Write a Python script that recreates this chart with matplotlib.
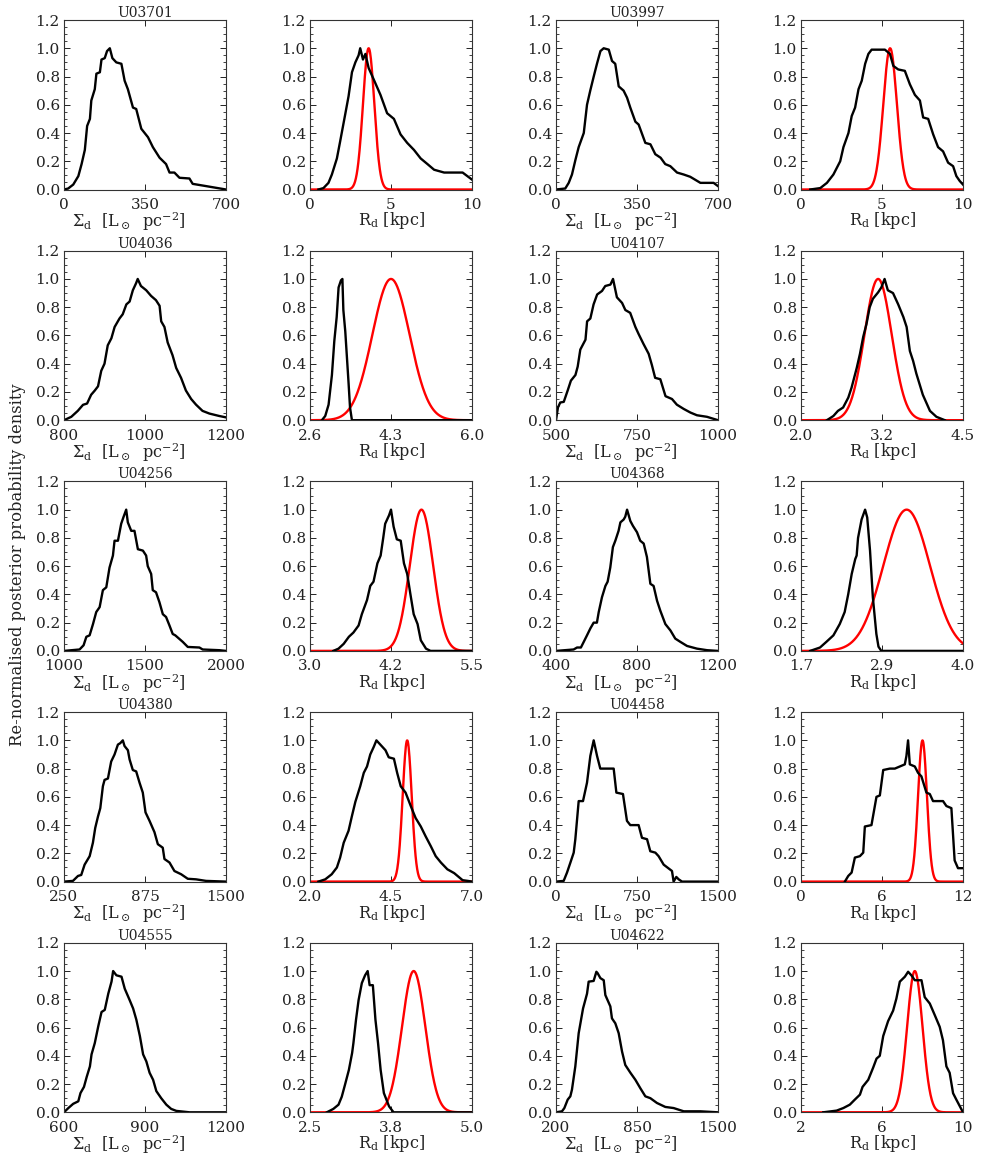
import numpy as np
import matplotlib
matplotlib.use('Agg')
import matplotlib.pyplot as plt
from matplotlib.ticker import MultipleLocator

plt.rcParams['font.family'] = 'DejaVu Serif'
plt.rcParams['mathtext.fontset'] = 'dejavuserif'

galaxies = ['U03701', 'U03997', 'U04036', 'U04107', 'U04256',
            'U04368', 'U04380', 'U04458', 'U04555', 'U04622']

# x ranges and tick labels (min, mid, max) for Sigma_d and R_d panels
sig_range = [(0, 700), (0, 700), (800, 1200), (500, 1000), (1000, 2000),
             (400, 1200), (250, 1500), (0, 1500), (600, 1200), (200, 1500)]
sig_ticks = [['0', '350', '700'], ['0', '350', '700'], ['800', '1000', '1200'],
             ['500', '750', '1000'], ['1000', '1500', '2000'], ['400', '800', '1200'],
             ['250', '875', '1500'], ['0', '750', '1500'], ['600', '900', '1200'],
             ['200', '850', '1500']]
rd_range = [(0, 10), (0, 10), (2.6, 6.0), (2.0, 4.5), (3.0, 5.5),
            (1.7, 4.0), (2.0, 7.0), (0, 12), (2.5, 5.0), (2, 10)]
rd_ticks = [['0', '5', '10'], ['0', '5', '10'], ['2.6', '4.3', '6.0'],
            ['2.0', '3.2', '4.5'], ['3.0', '4.2', '5.5'], ['1.7', '2.9', '4.0'],
            ['2.0', '4.5', '7.0'], ['0', '6', '12'], ['2.5', '3.8', '5.0'],
            ['2', '6', '10']]

# red prior on R_d: centre and width
prior_mu = [3.62, 5.5, 4.30, 3.19, 4.72, 3.20, 5.0, 9.0, 4.10, 7.62]
prior_sd = [0.35, 0.42, 0.39, 0.21, 0.18, 0.33, 0.14, 0.33, 0.18, 0.38]

# posterior of Sigma_d (black, left panels)
sig_x = [
    [0, 18, 40, 62, 76, 90, 100, 112, 118, 133, 140, 155, 162, 176, 186, 198, 209, 226, 248, 262,
     276, 298, 312, 334, 363, 384, 413, 441, 456, 477, 499, 542, 556, 614, 657, 700],
    [0, 40, 55, 69, 84, 98, 120, 134, 148, 163, 177, 192, 206, 228, 242, 256, 271, 292, 307, 321,
     343, 357, 386, 408, 429, 452, 472, 494, 523, 552, 580, 624, 681, 700],
    [800, 818, 834, 847, 857, 867, 876, 884, 892, 900, 908, 917, 925, 937, 945, 954, 962, 970, 978, 982,
     990, 1003, 1015, 1027, 1036, 1040, 1048, 1056, 1068, 1077, 1089, 1101, 1114, 1126, 1142, 1159, 1183, 1200],
    [500, 506, 513, 524, 536, 546, 560, 567, 575, 591, 596, 606, 616, 627, 642, 652, 668, 676, 688, 704,
     714, 729, 745, 755, 770, 786, 796, 806, 822, 838, 858, 873, 894, 915, 935, 966, 1000],
    [1000, 1096, 1121, 1138, 1158, 1179, 1199, 1220, 1240, 1261, 1281, 1302, 1312, 1333, 1353, 1368, 1384, 1394,
     1415, 1435, 1456, 1487, 1507, 1517, 1538, 1548, 1568, 1589, 1610, 1630, 1651, 1671, 1687, 1733, 1764,
     1836, 1856, 1959, 2000],
    [400, 487, 504, 523, 537, 553, 570, 586, 602, 611, 627, 644, 655, 668, 681, 693, 709, 718, 734, 742,
     751, 767, 780, 800, 816, 833, 849, 866, 882, 899, 915, 940, 965, 989, 1014, 1047, 1096, 1146, 1200],
    [250, 319, 358, 383, 409, 448, 473, 491, 512, 530, 550, 563, 589, 614, 640, 666, 684, 704, 717, 743,
     756, 781, 807, 833, 858, 879, 910, 948, 974, 1012, 1025, 1064, 1102, 1154, 1205, 1269, 1346, 1500],
    [0, 71, 102, 133, 164, 179, 210, 250, 287, 318, 349, 380, 410, 534, 559, 620, 657, 688, 765, 796,
     843, 873, 920, 950, 997, 1074, 1089, 1114, 1136, 1167, 1500],
    [600, 616, 634, 653, 661, 674, 684, 696, 702, 714, 727, 739, 751, 764, 776, 782, 794, 813, 825, 843,
     856, 868, 881, 893, 905, 917, 930, 942, 960, 979, 997, 1016, 1065, 1200],
    [200, 248, 267, 294, 315, 328, 355, 382, 417, 449, 462, 502, 524, 534, 556, 583, 596, 636, 649, 676,
     703, 730, 756, 797, 837, 877, 917, 957, 1010, 1077, 1144, 1225, 1358, 1500],
]
sig_y = [
    [0, 0.007, 0.035, 0.095, 0.18, 0.28, 0.45, 0.5, 0.63, 0.71, 0.82, 0.83, 0.92, 0.93, 0.98, 1.0, 0.93, 0.9,
     0.89, 0.77, 0.71, 0.58, 0.57, 0.43, 0.37, 0.30, 0.225, 0.18, 0.12, 0.12, 0.083, 0.078, 0.04, 0.024,
     0.012, 0],
    [0, 0.007, 0.047, 0.106, 0.21, 0.30, 0.40, 0.6, 0.70, 0.80, 0.89, 0.98, 1.0, 0.99, 0.91, 0.89, 0.73,
     0.70, 0.65, 0.58, 0.48, 0.46, 0.33, 0.32, 0.25, 0.225, 0.18, 0.165, 0.12, 0.106, 0.09, 0.047, 0.047,
     0.024],
    [0, 0.024, 0.066, 0.109, 0.118, 0.18, 0.21, 0.24, 0.35, 0.40, 0.53, 0.58, 0.66, 0.72, 0.75, 0.82, 0.84,
     0.92, 0.97, 1.0, 0.95, 0.92, 0.88, 0.85, 0.81, 0.70, 0.66, 0.55, 0.46, 0.37, 0.30, 0.21, 0.15, 0.11,
     0.066, 0.047, 0.03, 0.02],
    [0, 0.09, 0.125, 0.13, 0.21, 0.28, 0.32, 0.38, 0.50, 0.57, 0.70, 0.72, 0.82, 0.89, 0.915, 0.95, 0.96,
     1.0, 0.87, 0.83, 0.78, 0.76, 0.66, 0.61, 0.54, 0.47, 0.39, 0.30, 0.29, 0.17, 0.15, 0.11, 0.08, 0.054,
     0.035, 0.024, 0],
    [0, 0.01, 0.04, 0.1, 0.11, 0.19, 0.275, 0.31, 0.43, 0.45, 0.59, 0.675, 0.78, 0.78, 0.90, 0.95, 1.0,
     0.91, 0.85, 0.85, 0.72, 0.71, 0.675, 0.60, 0.545, 0.43, 0.415, 0.345, 0.26, 0.24, 0.18, 0.12, 0.11,
     0.064, 0.028, 0.024, 0.01, 0.005, 0],
    [0, 0.01, 0.024, 0.024, 0.064, 0.11, 0.16, 0.2, 0.2, 0.275, 0.38, 0.46, 0.49, 0.59, 0.735, 0.78, 0.85,
     0.91, 0.93, 0.95, 1.0, 0.92, 0.885, 0.84, 0.78, 0.76, 0.665, 0.475, 0.46, 0.355, 0.285, 0.19, 0.145,
     0.087, 0.064, 0.035, 0.016, 0.005, 0],
    [0, 0.005, 0.04, 0.047, 0.12, 0.18, 0.275, 0.38, 0.46, 0.52, 0.675, 0.72, 0.73, 0.85, 0.90, 0.97, 0.98,
     1.0, 0.96, 0.93, 0.865, 0.79, 0.78, 0.70, 0.63, 0.49, 0.43, 0.35, 0.265, 0.24, 0.16, 0.135, 0.075,
     0.052, 0.02, 0.016, 0.005, 0],
    [0, 0.005, 0.064, 0.134, 0.205, 0.30, 0.57, 0.57, 0.70, 0.89, 1.0, 0.89, 0.80, 0.80, 0.63, 0.62, 0.43,
     0.40, 0.40, 0.31, 0.30, 0.215, 0.205, 0.18, 0.12, 0.075, 0, 0.033, 0.016, 0, 0],
    [0, 0.03, 0.06, 0.078, 0.136, 0.18, 0.25, 0.325, 0.41, 0.49, 0.61, 0.71, 0.725, 0.84, 0.925, 1.0, 0.97,
     0.96, 0.875, 0.795, 0.735, 0.655, 0.54, 0.41, 0.36, 0.28, 0.23, 0.15, 0.10, 0.054, 0.024, 0.01, 0, 0],
    [0, 0.007, 0.03, 0.09, 0.113, 0.16, 0.325, 0.56, 0.735, 0.84, 0.925, 0.93, 0.995, 0.985, 0.95, 0.935,
     0.83, 0.75, 0.665, 0.63, 0.56, 0.43, 0.335, 0.28, 0.23, 0.17, 0.113, 0.10, 0.066, 0.038, 0.03, 0.007,
     0.007, 0],
]

# posterior of R_d (black, right panels)
rd_x = [
    [0.52, 0.83, 1.14, 1.35, 1.66, 1.86, 2.17, 2.38, 2.59, 2.8, 3.0, 3.1, 3.27, 3.42, 3.62, 3.93, 4.35, 4.76,
     5.18, 5.59, 6.0, 6.42, 6.83, 7.25, 7.66, 8.28, 9.42, 10.0],
    [0.57, 1.19, 1.6, 2.0, 2.42, 2.62, 2.93, 3.13, 3.34, 3.55, 3.75, 3.96, 4.16, 4.36, 5.18, 5.49, 5.7, 6.0,
     6.41, 6.72, 7.03, 7.34, 7.54, 7.85, 8.16, 8.46, 8.77, 9.08, 9.39, 9.59, 9.8, 10.0],
    [2.85, 2.92, 2.99, 3.06, 3.11, 3.16, 3.20, 3.25, 3.28, 3.30, 3.34, 3.41, 3.44, 3.48, 6.0],
    [2.40, 2.50, 2.57, 2.65, 2.73, 2.78, 2.86, 2.91, 2.96, 3.01, 3.06, 3.11, 3.19, 3.24, 3.29, 3.34, 3.42,
     3.50, 3.58, 3.63, 3.68, 3.73, 3.78, 3.88, 3.99, 4.09, 4.22],
    [3.36, 3.44, 3.52, 3.60, 3.67, 3.75, 3.80, 3.88, 3.93, 3.98, 4.04, 4.09, 4.13, 4.16, 4.22, 4.25, 4.29,
     4.34, 4.40, 4.45, 4.50, 4.55, 4.60, 4.66, 4.71, 4.79, 4.86, 5.5],
    [1.83, 1.97, 2.06, 2.16, 2.25, 2.32, 2.37, 2.42, 2.47, 2.49, 2.51, 2.56, 2.61, 2.64, 2.68, 2.72, 2.77,
     2.80, 2.84, 4.0],
    [2.26, 2.47, 2.67, 2.83, 2.93, 3.04, 3.19, 3.29, 3.40, 3.55, 3.66, 3.76, 3.86, 3.97, 4.05, 4.17, 4.33,
     4.43, 4.59, 4.69, 4.80, 4.95, 5.11, 5.26, 5.42, 5.57, 5.73, 5.88, 6.04, 6.24, 6.45, 6.71, 6.87, 7.0],
    [3.25, 3.50, 3.75, 3.99, 4.36, 4.61, 4.73, 5.22, 5.59, 5.84, 6.09, 6.58, 6.95, 7.32, 7.69, 7.81, 7.93,
     8.06, 8.43, 8.67, 8.92, 9.29, 9.54, 9.78, 10.52, 10.77, 11.14, 11.38, 11.63, 12.0],
    [2.76, 2.86, 2.94, 2.99, 3.04, 3.10, 3.15, 3.17, 3.21, 3.25, 3.30, 3.35, 3.39, 3.42, 3.47, 3.51, 3.55,
     3.59, 3.64, 3.72, 3.79, 5.0],
    [3.10, 3.76, 4.09, 4.41, 4.66, 4.91, 5.04, 5.32, 5.56, 5.73, 5.89, 6.06, 6.30, 6.55, 6.71, 6.88, 7.13,
     7.29, 7.45, 7.62, 7.95, 8.11, 8.36, 8.60, 8.85, 9.01, 9.18, 9.34, 9.51, 9.67, 10.0],
]
rd_y = [
    [0, 0.01, 0.047, 0.106, 0.22, 0.34, 0.53, 0.66, 0.83, 0.9, 0.95, 1.0, 0.92, 0.96, 0.86, 0.78, 0.67, 0.54,
     0.5, 0.39, 0.33, 0.28, 0.22, 0.18, 0.14, 0.12, 0.12, 0.07],
    [0, 0.01, 0.047, 0.106, 0.2, 0.30, 0.40, 0.52, 0.58, 0.71, 0.77, 0.89, 0.96, 0.99, 0.99, 0.96, 0.875,
     0.85, 0.84, 0.745, 0.67, 0.63, 0.51, 0.5, 0.39, 0.30, 0.27, 0.19, 0.165, 0.095, 0.06, 0.035],
    [0, 0.03, 0.11, 0.32, 0.56, 0.73, 0.94, 0.99, 1.0, 0.78, 0.63, 0.26, 0.09, 0, 0],
    [0, 0.03, 0.066, 0.09, 0.16, 0.23, 0.37, 0.47, 0.59, 0.68, 0.80, 0.86, 0.905, 0.94, 1.0, 0.92, 0.90,
     0.82, 0.73, 0.66, 0.49, 0.42, 0.33, 0.18, 0.066, 0.024, 0],
    [0, 0.016, 0.05, 0.1, 0.13, 0.18, 0.26, 0.36, 0.46, 0.49, 0.62, 0.675, 0.80, 0.90, 0.96, 1.0, 0.88,
     0.79, 0.78, 0.62, 0.545, 0.40, 0.26, 0.19, 0.075, 0.016, 0, 0],
    [0, 0.024, 0.064, 0.11, 0.19, 0.275, 0.40, 0.545, 0.65, 0.675, 0.80, 0.93, 1.0, 0.945, 0.71, 0.38,
     0.12, 0.03, 0, 0],
    [0, 0.016, 0.052, 0.1, 0.17, 0.275, 0.36, 0.46, 0.565, 0.675, 0.77, 0.815, 0.90, 0.955, 1.0, 0.97,
     0.93, 0.88, 0.87, 0.77, 0.675, 0.63, 0.535, 0.45, 0.39, 0.32, 0.25, 0.18, 0.135, 0.087, 0.06, 0.01,
     0.005, 0],
    [0, 0.04, 0.064, 0.17, 0.18, 0.205, 0.39, 0.40, 0.60, 0.61, 0.79, 0.80, 0.80, 0.815, 0.83, 0.89, 1.0,
     0.83, 0.815, 0.77, 0.745, 0.63, 0.62, 0.57, 0.57, 0.535, 0.52, 0.15, 0.095, 0.095],
    [0, 0.024, 0.054, 0.11, 0.195, 0.30, 0.42, 0.49, 0.655, 0.795, 0.915, 0.97, 1.0, 0.90, 0.90, 0.655,
     0.49, 0.30, 0.136, 0.042, 0, 0],
    [0, 0.012, 0.03, 0.054, 0.09, 0.125, 0.18, 0.23, 0.315, 0.38, 0.40, 0.54, 0.645, 0.72, 0.805, 0.925,
     0.96, 0.995, 0.97, 0.935, 0.935, 0.815, 0.77, 0.69, 0.605, 0.51, 0.325, 0.28, 0.135, 0.09, 0],
]

W, H = 981, 1154
fig = plt.figure(figsize=(W / 100, H / 100), dpi=100)

col_left = [64, 310, 556, 801]
ax_w, ax_h = 162, 169.5
row_top0, row_step = 20, 230.7

sig_label = r'$\Sigma_{\rm d}$  [L$_\odot$  pc$^{-2}$]'
rd_label = r'R$_{\rm d}$ [kpc]'


def style(ax, xr, labels, xlabel, label_x):
    ax.set_xlim(*xr)
    ax.set_ylim(0, 1.2)
    ax.set_xticks([xr[0], (xr[0] + xr[1]) / 2, xr[1]])
    ax.set_xticklabels(labels)
    ax.set_yticks(np.arange(0, 1.21, 0.2))
    ax.set_yticklabels(['%.1f' % v for v in np.arange(0, 1.21, 0.2)])
    ax.yaxis.set_minor_locator(MultipleLocator(0.05))
    ax.tick_params(which='both', direction='in', top=True, right=True, labelsize=11, colors='#222222')
    ax.tick_params(axis='x', which='major', length=4, width=0.7, pad=6)
    ax.tick_params(axis='y', which='major', length=4, width=0.7, pad=3)
    ax.tick_params(axis='y', which='minor', length=2, width=0.6)
    for s in ax.spines.values():
        s.set_linewidth(0.8)
        s.set_color('#333333')
    ax.set_xlabel(xlabel, fontsize=11.5, labelpad=-1, color='#222222')
    ax.xaxis.label.set_x(label_x)


for i, name in enumerate(galaxies):
    row, pair = divmod(i, 2)
    top = row_top0 + row * row_step
    bottom = 1 - (top + ax_h) / H

    ax1 = fig.add_axes([col_left[2 * pair] / W, bottom, ax_w / W, ax_h / H])
    ax1.plot(sig_x[i], sig_y[i], color='black', lw=1.7)
    style(ax1, sig_range[i], sig_ticks[i], sig_label, 0.40)
    ax1.set_title(name, fontsize=10, pad=1.5, color='#222222')

    ax2 = fig.add_axes([col_left[2 * pair + 1] / W, bottom, ax_w / W, ax_h / H])
    xx = np.linspace(rd_range[i][0], rd_range[i][1], 400)
    ax2.plot(xx, np.exp(-0.5 * ((xx - prior_mu[i]) / prior_sd[i]) ** 2), color='red', lw=1.7, zorder=2)
    ax2.plot(rd_x[i], rd_y[i], color='black', lw=1.7, zorder=3)
    style(ax2, rd_range[i], rd_ticks[i], rd_label, 0.5)

fig.text(18 / W, 1 - 565 / H, 'Re-normalised posterior probability density',
         rotation=90, ha='center', va='center', fontsize=11.8, color='#222222')

fig.savefig('out.png', dpi=100)
